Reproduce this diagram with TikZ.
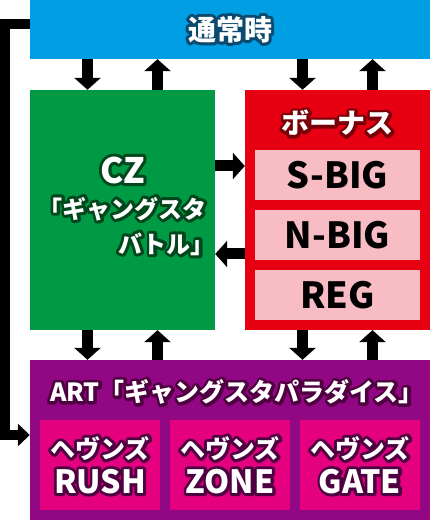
\documentclass[tikz,border=0pt]{standalone}
\usepackage{fontspec}
\newfontfamily\jp{Noto Sans CJK JP}
\usepackage{tikz}
\usetikzlibrary{arrows.meta}

\definecolor{normalblue}{HTML}{009FE3}
\definecolor{normalline}{HTML}{0A4A6E}
\definecolor{czgreen}{HTML}{009944}
\definecolor{czline}{HTML}{00471C}
\definecolor{bonusred}{HTML}{E60012}
\definecolor{bonusline}{HTML}{7A0008}
\definecolor{slotpink}{HTML}{F7BCC4}
\definecolor{artpurple}{HTML}{920783}
\definecolor{artline}{HTML}{4E0040}
\definecolor{modepink}{HTML}{E4007F}

% white text with a dark rim round it (rim = stroked glyphs under the fill)
\newcommand\halo[2]{\leavevmode
  \rlap{\special{pdf:literal direct 1 Tr 6 w 1 j 1 J}\textcolor{#1}{#2}%
        \special{pdf:literal direct 0 Tr 0.4 w 0 j 0 J}}%
  \textcolor{white}{#2}}

\tikzset{
  area/.style={draw=none, inner sep=0pt},
  slot/.style={fill=slotpink, minimum width=165pt, minimum height=50pt, inner sep=0pt,
    font=\jp\bfseries\fontsize{36}{36}\selectfont},
  mode/.style={fill=modepink, minimum width=120pt, minimum height=90pt, inner sep=0pt,
    align=center, font=\jp\bfseries\fontsize{25}{35}\selectfont},
  title/.style={inner sep=0pt, font=\jp\bfseries\fontsize{#1}{#1}\selectfont},
  flow/.style={line width=11pt, -{Triangle[width=26pt,length=12pt]}},
  back/.style={line width=10pt, line join=miter, -{Triangle[width=22pt,length=12pt]}}
}

\begin{document}
\begin{tikzpicture}[x=1pt,y=1pt]
\useasboundingbox (0,0) rectangle (430,520);

\node[area, fill=normalblue, minimum width=400pt, minimum height=59pt, title=28] (normal) at (230,490.5) {\halo{normalline}{通常時}};

\node[area, fill=czgreen, minimum width=185pt, minimum height=240pt,
  font=\jp\bfseries\fontsize{24}{35}\selectfont] (cz) at (122.5,310)
  {\begin{tabular}{@{}r@{}}\multicolumn{1}{@{}c@{}}{\fontsize{35}{35}\selectfont\halo{czline}{CZ}}\\
   \halo{czline}{「ギャングスタ}\\ \halo{czline}{バトル」}\kern-.35em\end{tabular}};

\node[area, fill=bonusred, minimum width=185pt, minimum height=240pt] (bonus) at (337.5,310) {};
\node[title=28] (bonustitle) at (337.5,397) {\halo{bonusline}{ボーナス}};
\node[slot] (sbig) at (337.5,345) {S-BIG};
\node[slot] (nbig) at (337.5,285) {N-BIG};
\node[slot] (reg) at (337.5,225) {REG};

\node[area, fill=artpurple, minimum width=400pt, minimum height=160pt] (art) at (230,80) {};
\node[title=25] (arttitle) at (232,128) {\halo{artline}{ART「ギャングスタパラダイス」}\kern-.4em};
\node[mode] (rush) at (100,55) {\halo{artline}{ヘヴンズ}\\\halo{artline}{\fontsize{32}{35}\selectfont RUSH}};
\node[mode] (zone) at (230,55) {\halo{artline}{ヘヴンズ}\\\halo{artline}{\fontsize{32}{35}\selectfont ZONE}};
\node[mode] (gate) at (360,55) {\halo{artline}{ヘヴンズ}\\\halo{artline}{\fontsize{32}{35}\selectfont GATE}};

% arrows between the states
\draw[flow] ([xshift=-35pt]cz.north |- normal.south) -- ([xshift=-35pt]cz.north);
\draw[flow] ([xshift=35pt]cz.north) -- ([xshift=35pt]cz.north |- normal.south);
\draw[flow] ([xshift=-35pt]bonus.north |- normal.south) -- ([xshift=-35pt]bonus.north);
\draw[flow] ([xshift=35pt]bonus.north) -- ([xshift=35pt]bonus.north |- normal.south);

\draw[flow] ([xshift=-35pt]cz.south) -- ([xshift=-35pt]cz.south |- art.north);
\draw[flow] ([xshift=35pt]cz.south |- art.north) -- ([xshift=35pt]cz.south);
\draw[flow] ([xshift=-35pt]bonus.south) -- ([xshift=-35pt]bonus.south |- art.north);
\draw[flow] ([xshift=35pt]bonus.south |- art.north) -- ([xshift=35pt]bonus.south);

\draw[flow] ([yshift=44pt]cz.east) -- ([yshift=44pt]cz.east -| bonus.west);
\draw[flow] ([yshift=-44pt]cz.east -| bonus.west) -- ([yshift=-44pt]cz.east);

\draw[back] ([yshift=5.5pt]normal.west) -| ([xshift=-25pt,yshift=5pt]art.west) -- ([yshift=5pt]art.west);

\end{tikzpicture}
\end{document}
